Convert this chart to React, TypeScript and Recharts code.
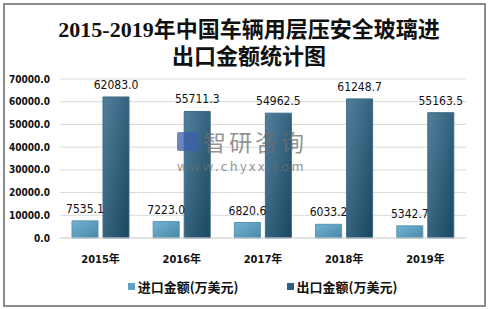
import React from "react";
import { BarChart, Bar, XAxis, YAxis, CartesianGrid, LabelList } from "recharts";

const years = ["2015年", "2016年", "2017年", "2018年", "2019年"];
const importValues = [7535.1, 7223.0, 6820.6, 6033.2, 5342.7];
const exportValues = [62083.0, 55711.3, 54962.5, 61248.7, 55163.5];
const yTicks = [0, 10000, 20000, 30000, 40000, 50000, 60000, 70000];

const IMPORT_NAME = "进口金额(万美元)";
const EXPORT_NAME = "出口金额(万美元)";

const data = years.map((year, i) => ({
  year,
  imp: importValues[i],
  exp: exportValues[i],
}));

const numFont = "'DejaVu Sans Condensed', 'DejaVu Sans', 'Noto Sans CJK SC', sans-serif";

function LegendItem({ color, label }: { color: string; label: string }) {
  return (
    <div style={{ display: "flex", alignItems: "center", gap: 3 }}>
      <span style={{ width: 7, height: 7, background: color, display: "inline-block" }} />
      <span style={{ fontSize: 13, fontWeight: 700, color: "#111", fontFamily: "'Noto Sans CJK SC', sans-serif" }}>
        {label}
      </span>
    </div>
  );
}

export default function App() {
  return (
    <div
      style={{
        position: "absolute",
        left: 0,
        top: 0,
        width: 489,
        height: 309,
        background: "#fff",
      }}
    >
      {/* outer frame */}
      <div
        style={{
          position: "absolute",
          left: 3,
          top: 3,
          width: 479,
          height: 300,
          border: "2px solid #8c8c8c",
        }}
      />
      {/* title */}
      <div
        style={{
          position: "absolute",
          left: 0,
          top: 16,
          width: 498,
          textAlign: "center",
          fontFamily: "'Liberation Serif', 'Noto Sans CJK SC', serif",
          fontWeight: 700,
          fontSize: 22,
          lineHeight: "27px",
          color: "#111",
        }}
      >
        <div>2015-2019年中国车辆用层压安全玻璃进</div>
        <div>出口金额统计图</div>
      </div>

      <div style={{ position: "absolute", left: 0, top: 0 }}>
        <BarChart
          width={489}
          height={309}
          data={data}
          margin={{ top: 79, right: 23, bottom: 41, left: 5 }}
          barSize={26}
          barGap={5}
        >
          <defs>
            <linearGradient id="gImp" x1="0" y1="0" x2="1" y2="1">
              <stop offset="0%" stopColor="#72b4d4" />
              <stop offset="100%" stopColor="#4a87a6" />
            </linearGradient>
            <linearGradient id="gExp" x1="0" y1="0" x2="1" y2="1">
              <stop offset="0%" stopColor="#537f9c" />
              <stop offset="100%" stopColor="#184760" />
            </linearGradient>
          </defs>
          <CartesianGrid vertical={false} stroke="#d9d9d9" />
          <XAxis
            dataKey="year"
            height={30}
            axisLine={{ stroke: "#d9d9d9" }}
            tickLine={false}
            tickMargin={11}
            tick={{ fontSize: 11, fontWeight: 700, fill: "#111", fontFamily: numFont }}
          />
          <YAxis
            width={55}
            domain={[0, 70000]}
            ticks={yTicks}
            interval={0}
            axisLine={false}
            tickLine={false}
            tickSize={0}
            tickMargin={10}
            tickFormatter={(v: number) => v.toFixed(1)}
            tick={{ fontSize: 10, fontWeight: 700, fill: "#111", fontFamily: numFont }}
          />
          <Bar dataKey="imp" name={IMPORT_NAME} fill="url(#gImp)" stroke="#5b93ae" strokeWidth={1} isAnimationActive={false}>
            <LabelList
              dataKey="imp"
              position="top"
              offset={8}
              formatter={(v: number) => v.toFixed(1)}
              style={{ fontSize: 12, fill: "#111", fontFamily: numFont }}
            />
          </Bar>
          <Bar dataKey="exp" name={EXPORT_NAME} fill="url(#gExp)" stroke="#3f6a85" strokeWidth={1} isAnimationActive={false}>
            <LabelList
              dataKey="exp"
              position="top"
              offset={8}
              formatter={(v: number) => v.toFixed(1)}
              style={{ fontSize: 12, fill: "#111", fontFamily: numFont }}
            />
          </Bar>
        </BarChart>
      </div>

      {/* watermark */}
      <div
        style={{
          position: "absolute",
          left: 177,
          top: 129,
          display: "flex",
          alignItems: "center",
          gap: 4,
          color: "rgba(110,110,110,0.75)",
          fontFamily: "'Noto Sans CJK SC', sans-serif",
          pointerEvents: "none",
        }}
      >
        <span
          style={{
            width: 22,
            height: 19,
            background: "rgba(60,95,170,0.75)",
            display: "inline-block",
            borderRadius: 2,
          }}
        />
        <span style={{ fontSize: 23, letterSpacing: 3, lineHeight: "25px" }}>智研咨询</span>
      </div>
      <div
        style={{
          position: "absolute",
          left: 177,
          top: 159,
          color: "rgba(110,110,110,0.75)",
          fontFamily: "'Noto Sans CJK SC', sans-serif",
          fontSize: 13,
          letterSpacing: 2.4,
          lineHeight: "13px",
          pointerEvents: "none",
        }}
      >
        www.chyxx.com
      </div>

      {/* legend */}
      <div
        style={{
          position: "absolute",
          left: 0,
          top: 277,
          width: 525,
          display: "flex",
          justifyContent: "center",
          gap: 48,
        }}
      >
        <LegendItem color="#5fa2c4" label={IMPORT_NAME} />
        <LegendItem color="#2f5f7c" label={EXPORT_NAME} />
      </div>
    </div>
  );
}
